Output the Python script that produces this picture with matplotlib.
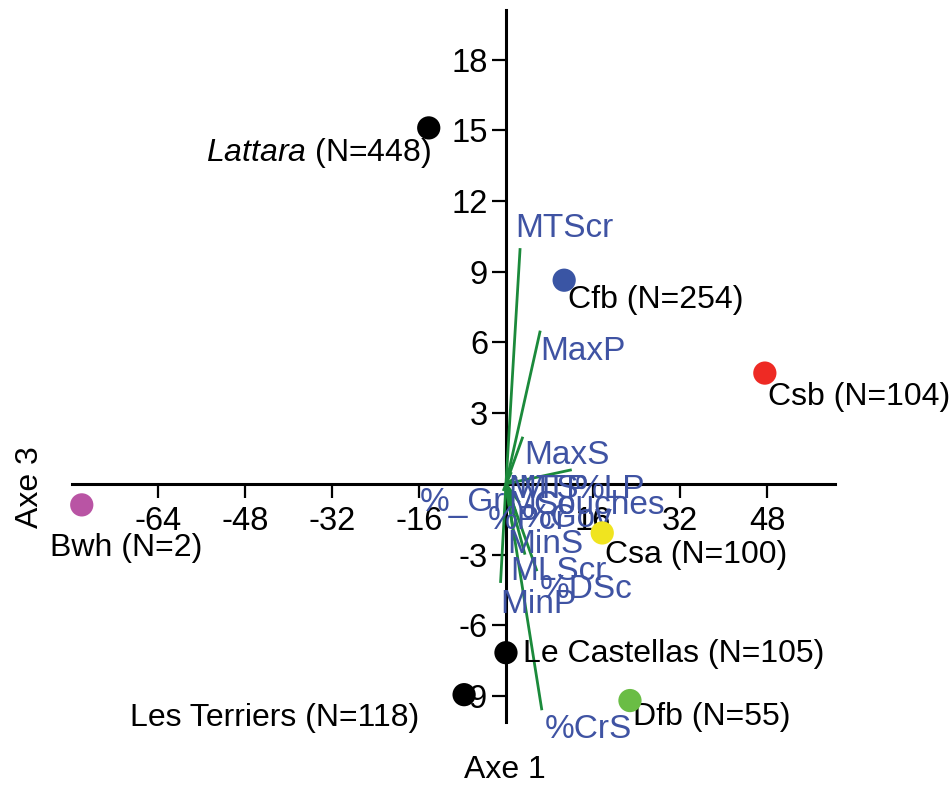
import matplotlib
matplotlib.use("Agg")
import matplotlib.pyplot as plt

plt.rcParams["font.family"] = ["Liberation Sans", "DejaVu Sans"]
plt.rcParams["mathtext.fontset"] = "custom"
plt.rcParams["mathtext.it"] = "Liberation Sans:italic"
plt.rcParams["mathtext.rm"] = "Liberation Sans"

# groups (scores on axes 1 and 3)
groupes = ["Lattara", "Cfb", "Csb", "Bwh", "Csa", "Le Castellas", "Les Terriers", "Dfb"]
effectifs = [448, 254, 104, 2, 100, 105, 118, 55]
axe1 = [-14.2, 10.7, 47.6, -78.0, 17.7, 0.0, -7.7, 22.8]
axe3 = [15.1, 8.64, 4.7, -0.89, -2.08, -7.16, -8.94, -9.19]
couleurs = ["black", "#3a55a4", "#ee2a24", "#b954a4", "#f0e41f", "black", "black", "#6abd45"]

# variable loadings (vectors)
variables = ["MTScr", "MaxP", "MaxS", "%LP", "MTS", "MTP", "%_Gr", "%Pcr", "MSc",
             "Couches", "%Gov", "MinS", "MLScr", "%DSc", "MinP", "%CrS"]
var_x = [2.6, 6.3, 3.1, 12.1, 1.0, 2.0, -0.5, 0.6, 1.2, 2.5, 1.8, 1.6, 3.5, 5.7, -1.0, 6.6]
var_y = [10.0, 6.5, 2.0, 0.6, 0.5, 0.3, -0.3, -1.0, -0.6, -0.8, -1.2, -2.4, -3.0, -3.7, -4.2, -9.6]
# label positions for the vectors
lab_x = [1.65, 6.25, 3.3, 12.7, 0.37, 2.2, -15.8, -3.3, 0.37, 5.0, 2.9, 0.2, 0.75, 6.25, -1.1, 7.2]
lab_y = [10.85, 5.6, 1.19, -0.25, -0.25, -0.25, -0.8, -1.55, -0.9, -0.9, -1.45, -2.55, -3.73, -4.5, -5.1, -10.4]

# group label offsets (points) and alignment
offsets = [(2, -18), (3, -14), (2, -17), (-23, -31), (2, -16), (12, -1), (-32, -17), (2, -12)]
alignements = ["right", "left", "left", "left", "left", "left", "right", "left"]

xticks = [-64, -48, -32, -16, 16, 32, 48]
yticks = [-9, -6, -3, 3, 6, 9, 12, 15, 18]

fig = plt.figure(figsize=(9.52, 7.89), dpi=100)
ax = fig.add_axes([0.0756, 0.0849, 0.8015, 0.9024])
ax.set_xlim(-79.8, 60.5)
ax.set_ylim(-10.1, 20.1)

for s in ["top", "right"]:
    ax.spines[s].set_visible(False)
ax.spines["left"].set_position(("data", 0))
ax.spines["bottom"].set_position(("data", 0))
for s in ["left", "bottom"]:
    ax.spines[s].set_linewidth(2.2)

ax.set_xticks(xticks)
ax.set_xticklabels([str(v) for v in xticks])
ax.set_yticks(yticks)
ax.set_yticklabels([str(v) for v in yticks])
ax.tick_params(axis="both", direction="out", length=10, width=1.6, labelsize=23.5)
ax.tick_params(axis="x", pad=6)
ax.tick_params(axis="y", pad=3)

vert = "#1b8a3b"
bleu = "#3f53a3"
for vx, vy in zip(var_x, var_y):
    ax.plot([0, vx], [0, vy], color=vert, lw=2, zorder=3, solid_capstyle="butt")
for nom, lx, ly in zip(variables, lab_x, lab_y):
    ax.text(lx, ly, nom, color=bleu, fontsize=24, ha="left", va="center", zorder=4)

ax.scatter(axe1, axe3, s=280, c=couleurs, zorder=6, clip_on=False, linewidths=0)
for g, n, x, y, off, ha in zip(groupes, effectifs, axe1, axe3, offsets, alignements):
    if g == "Lattara":
        txt = r"$\it{Lattara}$ (N=%d)" % n
    else:
        txt = f"{g} (N={n})"
    ax.annotate(txt, (x, y), xytext=off, textcoords="offset points",
                ha=ha, va="center", fontsize=23, color="black", zorder=5)

fig.text(0.530, 0.024, "Axe 1", fontsize=23, ha="center", va="center")
fig.text(0.032, 0.382, "Axe 3", fontsize=23, ha="center", va="center", rotation=90)

plt.savefig("out.png", dpi=100)
